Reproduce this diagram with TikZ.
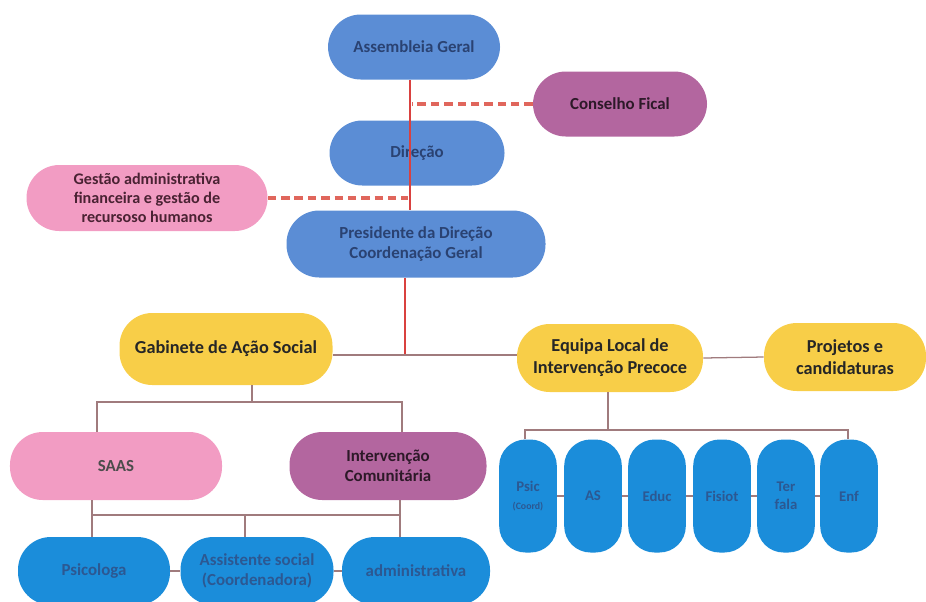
\documentclass[tikz,border=0pt]{standalone}
\usepackage{fontspec}
\setmainfont{Carlito}
\definecolor{topblue}{HTML}{5B8DD5}
\definecolor{lowblue}{HTML}{1B8DDA}
\definecolor{lightpink}{HTML}{F29CC3}
\definecolor{mauve}{HTML}{B3669F}
\definecolor{gold}{HTML}{F8CE48}
\definecolor{mainred}{HTML}{D9413F}
\definecolor{dashred}{HTML}{E0665C}
\definecolor{thinline}{HTML}{A07B7D}
\definecolor{navytext}{HTML}{2A4272}
\definecolor{steeltext}{HTML}{2C5892}
\definecolor{maroontext}{HTML}{4A2233}
\begin{document}
\begin{tikzpicture}[
  pill/.style={rectangle, rounded corners=0.82cm, inner sep=2pt, align=center,
    font=\fontsize{12}{14.5}\selectfont\bfseries},
  topbox/.style={pill, fill=topblue, text=navytext, minimum height=1.625cm},
  pinkbox/.style={pill, fill=lightpink, text=maroontext, minimum height=1.65cm},
  mauvebox/.style={pill, fill=mauve, text=black!75!mauve, minimum height=1.625cm},
  goldbox/.style={pill, fill=gold, text=black!85, minimum height=1.7cm,
    font=\fontsize{13}{15.5}\selectfont\bfseries},
  lowbox/.style={pill, fill=lowblue, text=steeltext, minimum height=1.7cm},
  tallbox/.style={pill, fill=lowblue, text=steeltext, rounded corners=0.66cm,
    minimum width=1.35cm, minimum height=2.825cm, text width=1.3cm,
    font=\fontsize{10.5}{12.5}\selectfont\bfseries},
  redline/.style={draw=mainred, line width=1.3pt},
  dashline/.style={draw=dashred, line width=2.2pt, dash pattern=on 6pt off 3.5pt},
  thin/.style={draw=thinline, line width=0.9pt}
]
\useasboundingbox (0,0) rectangle (23.15,-15.025);

\node[topbox, minimum width=4.3cm] (asm) at (10.35,-1.175) {Assembleia Geral};
\node[mauvebox, minimum width=4.35cm] (cons) at (15.5,-2.6) {Conselho Fical};
\node[topbox, minimum width=4.375cm] (dir) at (10.425,-3.825) {Direção};
\node[pinkbox, minimum width=6.025cm, font=\fontsize{11.5}{13.5}\selectfont\bfseries] (gest) at (3.675,-4.95)
  {Gestão administrativa\\financeira e gestão de\\recursoso humanos};
\node[topbox, minimum width=6.475cm, minimum height=1.675cm] (pres) at (10.4,-6.1)
  {Presidente da Direção\\Coordenação Geral};

\node[goldbox, minimum width=5.325cm, minimum height=1.8cm] (gab) at (5.65,-8.725) {Gabinete de Ação Social};
\node[goldbox, minimum width=4.65cm] (elip) at (15.25,-8.95) {Equipa Local de\\Intervenção Precoce};
\node[goldbox, minimum width=4.05cm] (proj) at (21.125,-8.925) {Projetos e\\candidaturas};

\node[pinkbox, minimum width=5.3cm, minimum height=1.7cm, text=black!70] (saas) at (2.9,-11.65) {SAAS};
\node[mauvebox, minimum width=4.925cm, minimum height=1.7cm] (interv) at (9.7,-11.65) {Intervenção\\Comunitária};

\node[lowbox, minimum width=3.8cm] (psico) at (2.35,-14.275) {Psicologa};
\node[lowbox, minimum width=3.825cm] (asoc) at (6.425,-14.275) {Assistente social\\(Coordenadora)};
\node[lowbox, minimum width=3.7cm] (adm) at (10.4,-14.275) {administrativa};

\node[tallbox] (psic) at (13.2,-12.4) {Psic\\{\fontsize{7}{8}\selectfont(Coord)}};
\node[tallbox] (as) at (14.825,-12.4) {AS};
\node[tallbox] (educ) at (16.425,-12.4) {Educ};
\node[tallbox] (fisio) at (18.05,-12.4) {Fisiot};
\node[tallbox] (terf) at (19.65,-12.4) {Ter\\fala};
\node[tallbox] (enf) at (21.225,-12.4) {Enf};

\coordinate (hub) at (10.125,-8.875);
\coordinate (gabbus) at (6.3,-10.05);
\coordinate (saasbus) at (6.125,-12.875);
\coordinate (elipbus) at (15.2,-10.75);

\draw[redline] (asm.south -| 10.25,0) -- (pres.north -| 10.25,0);
\draw[redline] (pres.south -| hub) -- (hub);
\draw[dashline] (cons.west) -- (cons.west -| 10.3,0);
\draw[dashline] (gest.east) -- (gest.east -| 10.2,0);

\draw[thin] (gab.east |- hub) -- (elip.west |- hub);
\draw[thin] (elip.east) -- (proj.west);

\draw[thin] (gab.south -| gabbus) -- (gabbus);
\draw[thin] (saas.north -| 2.425,0) |- (gabbus) -| (interv.north -| 10.05,0);

\draw[thin] (saas.south -| 2.3,0) -- (psico.north -| 2.3,0);
\draw[thin] (interv.south -| 10.0,0) -- (adm.north -| 10.0,0);
\draw[thin] (saasbus -| 2.3,0) -- (saasbus -| 10.0,0);
\draw[thin] (saasbus) -- (asoc.north -| saasbus);
\draw[thin] (psico) -- (asoc) -- (adm);

\draw[thin] (elip.south -| elipbus) -- (elipbus);
\draw[thin] (psic.north -| 13.125,0) |- (elipbus) -| (enf.north -| 21.2,0);
\draw[thin] (psic) -- (as) -- (educ) -- (fisio) -- (terf) -- (enf);
\end{tikzpicture}
\end{document}
